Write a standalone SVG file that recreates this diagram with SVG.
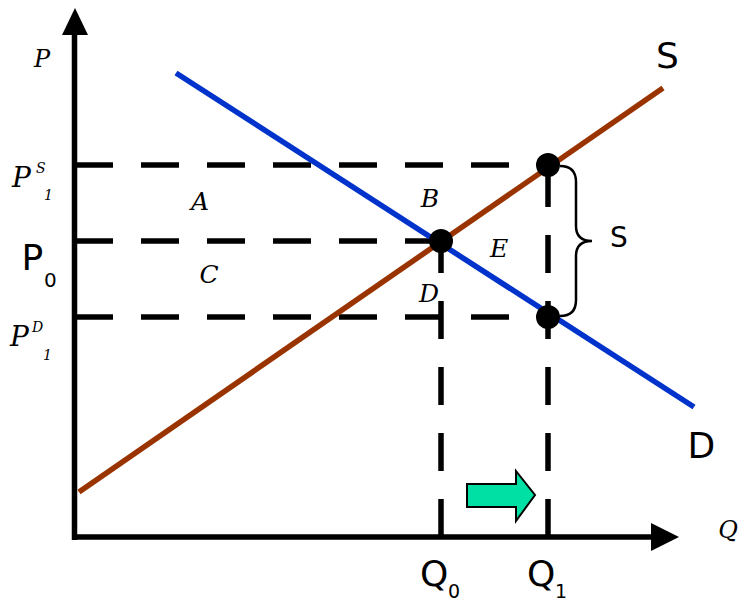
<svg xmlns="http://www.w3.org/2000/svg" width="738" height="603" viewBox="0 0 738 603">
<style>
.ax{stroke:#000;stroke-width:5.5;fill:none}
.dash{stroke:#000;stroke-width:5.5;fill:none;stroke-dasharray:38 28}
.it{font-family:"DejaVu Serif",serif;font-style:italic;fill:#000}
.sn{font-family:"DejaVu Sans",sans-serif;fill:#000}
.dot{fill:#000}
</style>
<rect width="738" height="603" fill="#fff"/>
<g id="connectors">
<path class="dash" d="M75,165 H548"/>
<path class="dash" d="M75,241 H441"/>
<path class="dash" d="M75,317 H548"/>
<path class="dash" d="M441,537 V241"/>
<path class="dash" d="M548,537 V165"/>
<line x1="79" y1="492" x2="663" y2="88" stroke="#993300" stroke-width="5.5"/>
<line x1="176" y1="73" x2="694" y2="407" stroke="#0033cc" stroke-width="5.5"/>
<path d="M560,166 Q576,166 576,182 L576,226 Q576,241 592,241 Q576,241 576,256 L576,300 Q576,316 560,316" stroke="#000" stroke-width="2.5" fill="none"/>
</g>
<g id="axes">
<path class="ax" d="M74.5,540 V30"/>
<polygon points="75,8 62,35 88,35" fill="#000"/>
<path class="ax" d="M72,537 H655"/>
<polygon points="679,537 651,523 651,551" fill="#000"/>
</g>
<g id="points">
<circle class="dot" cx="441" cy="241" r="12"/>
<circle class="dot" cx="548" cy="165" r="12"/>
<circle class="dot" cx="548" cy="317" r="12"/>
</g>
<g id="shift-arrow">
<polygon points="467,484 516,484 516,471 535,495 516,521 516,507 467,507" fill="#00e0a4" stroke="#000" stroke-width="2"/>
</g>
<g id="labels">
<text class="it" x="42" y="67" font-size="24" text-anchor="middle">P</text>
<text class="it" x="12" y="187" font-size="28">P</text>
<text class="it" x="36" y="173" font-size="14">S</text>
<text class="it" x="44" y="200" font-size="14">1</text>
<text class="sn" x="21.5" y="270" font-size="36">P</text>
<text class="sn" x="44" y="287" font-size="20">0</text>
<text class="it" x="10" y="346" font-size="28">P</text>
<text class="it" x="32" y="332" font-size="14">D</text>
<text class="it" x="43" y="360" font-size="14">1</text>
<text class="it" x="200" y="210" font-size="25" text-anchor="middle">A</text>
<text class="it" x="430" y="207" font-size="25" text-anchor="middle">B</text>
<text class="it" x="209" y="283" font-size="25" text-anchor="middle">C</text>
<text class="it" x="429" y="302" font-size="25" text-anchor="middle">D</text>
<text class="it" x="499" y="257" font-size="25" text-anchor="middle">E</text>
<text class="sn" x="656" y="68" font-size="36">S</text>
<text class="sn" x="610" y="247" font-size="28">S</text>
<text class="sn" x="687.5" y="458" font-size="36">D</text>
<text class="it" x="728" y="538" font-size="24" text-anchor="middle">Q</text>
<text class="sn" x="420" y="586" font-size="36">Q</text>
<text class="sn" x="448" y="598" font-size="19">0</text>
<text class="sn" x="527" y="586" font-size="36">Q</text>
<text class="sn" x="555" y="598" font-size="19">1</text>
</g>
</svg>
